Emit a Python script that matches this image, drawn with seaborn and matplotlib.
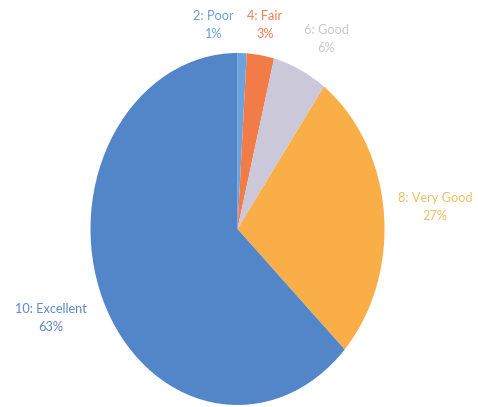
import matplotlib
matplotlib.use("Agg")
import matplotlib.pyplot as plt
import seaborn as sns

# rating categories and their share of answers (%)
categories = ["2: Poor", "4: Fair", "6: Good", "8: Very Good", "10: Excellent"]
shares = [1, 3, 6, 27, 63]

slice_colors = ["#6AA3DD", "#F27C48", "#CBC8DA", "#F9AE48", "#5385C9"]
text_colors = ["#6E9FD8", "#EE7D52", "#C9C9CF", "#F3BE62", "#5F88C4"]

# label anchor points in pixels (x, y from top)
label_px = [(213, 25), (265, 25), (326, 39), (435, 207), (51, 318)]

sns.set_theme(style="white")
plt.rcParams["font.family"] = ["Lato", "DejaVu Sans"]

W, H = 478, 407
fig = plt.figure(figsize=(W / 100, H / 100), dpi=100)
ax = fig.add_axes([0, 0, 1, 1])

ax.pie(shares, colors=slice_colors, startangle=90, counterclock=False,
       wedgeprops=dict(linewidth=0))

# the pie is drawn as a tall ellipse
cx, cy = 237.5, 229
rx, ry = 147, 176
ax.set_aspect("auto")
ax.set_xlim((0 - cx) / rx, (W - cx) / rx)
ax.set_ylim(-(H - cy) / ry, cy / ry)
ax.axis("off")


def to_data(px, py):
    return (px - cx) / rx, (cy - py) / ry


for cat, val, col, (px, py) in zip(categories, shares, text_colors, label_px):
    x, y = to_data(px, py)
    ax.text(x, y, f"{cat}\n{val}%", color=col, fontsize=9.2, ha="center",
            va="center", linespacing=1.65)

fig.savefig("out.png", dpi=100, facecolor="white")
